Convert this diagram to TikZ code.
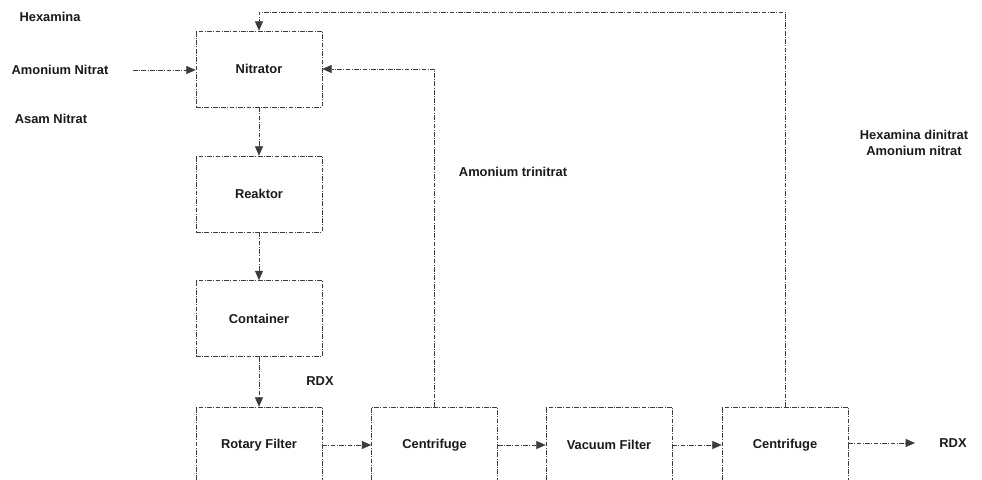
\documentclass[tikz,border=0pt]{standalone}
\usepackage{fontspec}
\setmainfont{Liberation Sans}
\usepackage{xcolor}
\usetikzlibrary{arrows.meta}
\definecolor{ink}{HTML}{1A1A1A}
\tikzset{
  unit/.style={draw=ink!85, line width=0.55pt,
    dash pattern=on 4pt off 1.2pt on 0.8pt off 1.2pt,
    minimum width=3.78cm, minimum height=2.28cm,
    font=\fontsize{11}{13.5}\selectfont\bfseries, text=ink},
  flow/.style={draw=ink!85, line width=0.55pt,
    dash pattern=on 4pt off 1.2pt on 0.8pt off 1.2pt,
    -{Triangle[length=0.28cm, width=0.24cm]}},
  tag/.style={font=\fontsize{11}{13.5}\selectfont\bfseries, text=ink, inner sep=0pt, align=center}
}

\begin{document}
\begin{tikzpicture}[x=0.03cm, y=-0.03cm]
\useasboundingbox (0,0) rectangle (982,480);
\clip (0,0) rectangle (982,480);

% process units
\node[unit] (nitrator)  at (259,69)    {Nitrator};
\node[unit] (reaktor)   at (259,194)   {Reaktor};
\node[unit] (container) at (259,318.5) {Container};
\node[unit] (rotary)    at (259,445)   {Rotary Filter};
\node[unit] (centrA)    at (434.5,445) {Centrifuge};
\node[unit] (vacuum)    at (609,445)   {Vacuum Filter};
\node[unit] (centrB)    at (785,445)   {Centrifuge};

% feeds and streams
\node[tag] (hexa)  at (50,17)  {Hexamina};
\node[tag] (amon)  at (60,70)  {Amonium Nitrat};
\node[tag] (asam)  at (51,119) {Asam Nitrat};
\node[tag] (rdxA)  at (320,381) {RDX};
\node[tag] (trini) at (513,172) {Amonium trinitrat};
\node[tag] (dini)  at (914,143) {Hexamina dinitrat\\Amonium nitrat};
\node[tag] (rdxB)  at (953,443) {RDX};

\coordinate (feed) at (133,70);
\coordinate (out)  at (915,443);
\coordinate (loop) at (0,12);

\draw[flow] (feed) -- (nitrator.west |- feed);
\draw[flow] (nitrator) -- (reaktor);
\draw[flow] (reaktor) -- (container);
\draw[flow] (container) -- (rotary);
\draw[flow] (rotary) -- (centrA);
\draw[flow] (centrA) -- (vacuum);
\draw[flow] (vacuum) -- (centrB);
\draw[flow] (centrB.east |- out) -- (out);

% recycle lines
\draw[flow] (centrA.north) |- (nitrator.east);
\draw[flow] (centrB.north) -- (centrB.north |- loop) -| (nitrator.north);

\end{tikzpicture}
\end{document}
